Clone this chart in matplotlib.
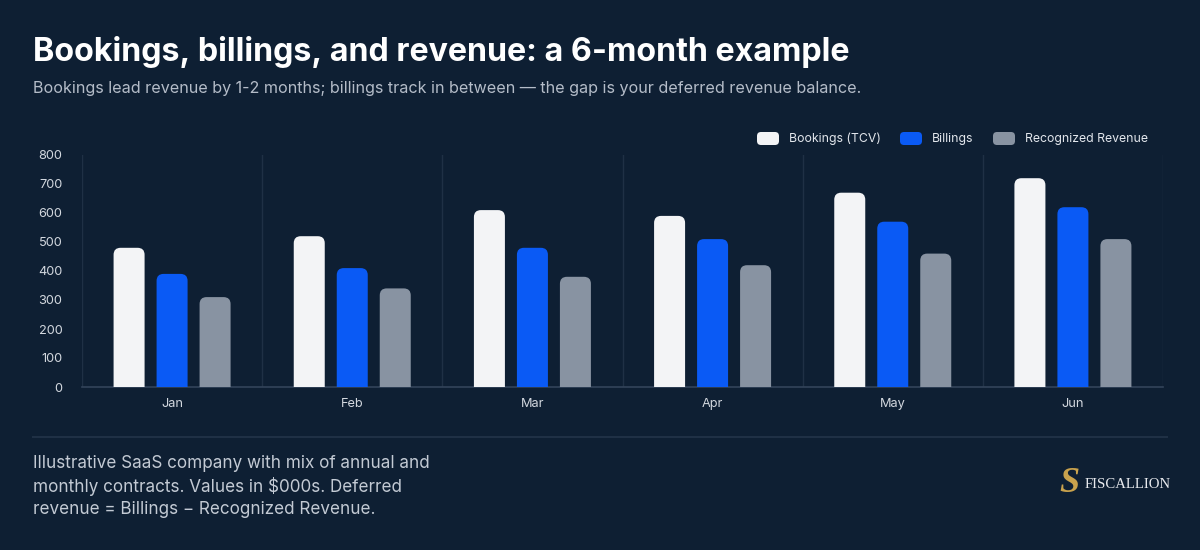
import matplotlib
matplotlib.use("Agg")
import matplotlib.pyplot as plt
from matplotlib.path import Path
from matplotlib.patches import PathPatch, FancyBboxPatch
import numpy as np

months = ["Jan", "Feb", "Mar", "Apr", "May", "Jun"]
bookings = [480, 520, 610, 590, 670, 720]
billings = [390, 410, 480, 510, 570, 620]
revenue = [310, 340, 380, 420, 460, 510]
series_names = ["Bookings (TCV)", "Billings", "Recognized Revenue"]
series_colors = ["#F3F4F6", "#0A5AF5", "#8893A2"]
yticks = [0, 100, 200, 300, 400, 500, 600, 700, 800]

BG = "#0E1F33"
GRID = "#1F3045"
W, H = 1200, 550
plt.rcParams['font.family'] = ['Inter', 'DejaVu Sans']

fig = plt.figure(figsize=(W / 100, H / 100), dpi=100, facecolor=BG)

# overlay axes in pixel coordinates
ov = fig.add_axes([0, 0, 1, 1])
ov.set_xlim(0, W)
ov.set_ylim(H, 0)
ov.axis("off")
ov.set_facecolor(BG)

ov.text(33, 52, "Bookings, billings, and revenue: a 6-month example", color="white",
        fontsize=23.2, fontweight="bold", va="center", ha="left")
ov.text(33, 88, "Bookings lead revenue by 1-2 months; billings track in between \u2014 the gap is your deferred revenue balance.",
        color="#B4BCC8", fontsize=11.6, va="center", ha="left")

# legend
leg_x = [757, 900, 993]
for x, name, c in zip(leg_x, series_names, series_colors):
    ov.add_patch(FancyBboxPatch((x + 2, 134), 18, 9, boxstyle="round,pad=2,rounding_size=4",
                                facecolor=c, edgecolor="none"))
    ov.text(x + 32, 139, name, color="#E2E6EC", fontsize=8.85, va="center", ha="left")

# divider
ov.plot([33, 1167], [437, 437], color=GRID, lw=1.5)

foot = ["Illustrative SaaS company with mix of annual and",
        "monthly contracts. Values in $000s. Deferred",
        "revenue = Billings \u2212 Recognized Revenue."]
for i, line in enumerate(foot):
    ov.text(33, 464 + i * 22.5, line, color="#C3CAD4", fontsize=12.3, va="center", ha="left")

# logo
ov.text(1069, 484, "S", color="#C9A24D", fontsize=26, fontweight="bold", style="italic",
        family="Liberation Serif", va="center", ha="center")
ov.text(1085, 485, "FISCALLION", color="#E8EAEE", fontsize=10.6, family="Liberation Serif",
        va="center", ha="left")

# main axes
L, R, T, B = 82, 1163, 155, 387
ax = fig.add_axes([L / W, 1 - B / H, (R - L) / W, (B - T) / H])
ax.set_facecolor("none")
ax.set_xlim(-0.5, 5.5)
ax.set_ylim(0, 800)
px_x = (R - L) / 6.0
px_y = (B - T) / 800.0

x = np.arange(len(months))
bw = 31 / px_x
off = 43 / px_x
rpx = 7
rx = rpx / px_x
ry = rpx / px_y

def rounded_bar(xc, h, color):
    x0, x1 = xc - bw / 2, xc + bw / 2
    verts = [(x0, 0), (x0, h - ry), (x0, h), (x0 + rx, h), (x1 - rx, h), (x1, h), (x1, h - ry),
             (x1, 0), (x0, 0)]
    codes = [Path.MOVETO, Path.LINETO, Path.CURVE3, Path.CURVE3, Path.LINETO, Path.CURVE3,
             Path.CURVE3, Path.LINETO, Path.CLOSEPOLY]
    ax.add_patch(PathPatch(Path(verts, codes), facecolor=color, edgecolor="none", zorder=3))

for k, (vals, c) in enumerate(zip([bookings, billings, revenue], series_colors)):
    for xi, v in zip(x, vals):
        rounded_bar(xi + (k - 1) * off, v, c)

for b in np.arange(-0.5, 6.0, 1.0):
    ax.axvline(b, color=GRID, lw=1, zorder=1)

for s in ["top", "right", "left"]:
    ax.spines[s].set_visible(False)
ax.spines["bottom"].set_color("#33445A")
ax.spines["bottom"].set_linewidth(1.2)
ax.set_xticks(x)
ax.set_xticklabels(months)
ax.set_yticks(yticks)
ax.tick_params(axis="both", length=0, colors="#D3D8DF", labelsize=9.2)
ax.tick_params(axis="x", pad=8)
ax.tick_params(axis="y", pad=14)

fig.savefig("out.png", dpi=100, facecolor=BG)
